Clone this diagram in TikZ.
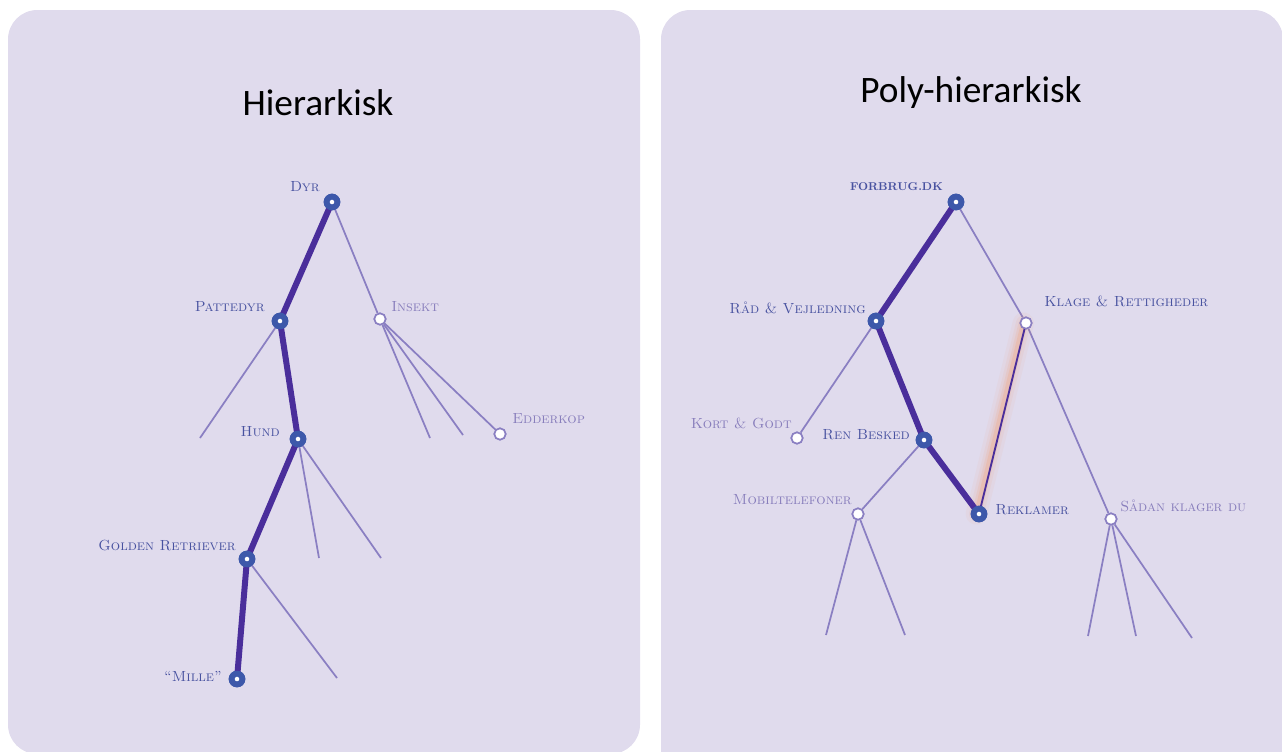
\documentclass[tikz,border=0pt]{standalone}
\usepackage{fontspec}
\newfontfamily\titlefont{Carlito}
\definecolor{panelbg}{RGB}{224,219,237}
\definecolor{edgedark}{RGB}{74,46,155}
\definecolor{edgelight}{RGB}{138,127,194}
\definecolor{nodeblue}{RGB}{61,88,170}
\definecolor{labdark}{RGB}{72,82,160}
\definecolor{labfaint}{RGB}{136,126,188}
\definecolor{glow}{RGB}{245,150,90}
\begin{document}
\begin{tikzpicture}[x=0.75pt,y=-0.75pt,
  mainedge/.style={line width=4.5pt, draw=edgedark, line cap=round},
  subedge/.style={line width=1.3pt, draw=edgelight},
  bnode/.style={circle, fill=nodeblue, minimum size=12.5pt, inner sep=0pt,
    path picture={\fill[white] (path picture bounding box.center) circle (1.7pt);}},
  wnode/.style={circle, draw=edgelight, fill=white, line width=1.2pt, minimum size=8.5pt, inner sep=0pt},
  lab/.style={font=\scshape\fontsize{11}{13}\selectfont, text=labdark, inner sep=0pt},
  flab/.style={lab, text=labfaint},
  ttl/.style={font=\titlefont\fontsize{28}{32}\selectfont, text=black, inner sep=0pt}]
\useasboundingbox (0,0) rectangle (1282,751);
\fill[panelbg, rounded corners=22pt] (8,10) rectangle (640,754);
\fill[panelbg, rounded corners=22pt] (661,10) rectangle (1283,790);

% ---------- left: Hierarkisk ----------
\node[ttl] (t1) at (318,103) {Hierarkisk};
\node[bnode] (dyr) at (332,202) {};
\node[bnode] (patt) at (280,321) {};
\node[wnode] (ins) at (380,319) {};
\node[wnode] (edd) at (500,434) {};
\node[bnode] (hund) at (298,439) {};
\node[bnode] (gold) at (247,559) {};
\node[bnode] (mille) at (237,679) {};
\coordinate (p1) at (200,438);
\coordinate (i1) at (430,438);
\coordinate (i2) at (463,435);
\coordinate (h1) at (319,558);
\coordinate (h2) at (381,558);
\coordinate (g1) at (337,678);

\draw[subedge] (dyr.center) -- (ins);
\draw[subedge] (patt.center) -- (p1);
\draw[subedge] (ins) -- (i1);
\draw[subedge] (ins) -- (i2);
\draw[subedge] (ins) -- (edd);
\draw[subedge] (hund.center) -- (h1);
\draw[subedge] (hund.center) -- (h2);
\draw[subedge] (gold.center) -- (g1);
\draw[mainedge] (dyr.center) -- (patt.center);
\draw[mainedge] (patt.center) -- (hund.center);
\draw[mainedge] (hund.center) -- (gold.center);
\draw[mainedge] (gold.center) -- (mille.center);
\node[bnode] at (dyr) {};
\node[bnode] at (patt) {};
\node[bnode] at (hund) {};
\node[bnode] at (gold) {};
\node[bnode] at (mille) {};
\node[wnode] at (ins) {};
\node[wnode] at (edd) {};

\node[lab, anchor=east] (ldyr) at (320,187) {Dyr};
\node[lab, anchor=east] (lpatt) at (265,307) {Pattedyr};
\node[flab, anchor=west] (lins) at (391,307) {Insekt};
\node[flab, anchor=west] (ledd) at (512,419) {Edderkop};
\node[lab, anchor=east] (lhund) at (280,432) {Hund};
\node[lab, anchor=east] (lgold) at (236,545) {Golden Retriever};
\node[lab, anchor=east] (lmille) at (222,676) {``Mille''};

% ---------- right: Poly-hierarkisk ----------
\node[ttl] (t2) at (971,93) {Poly-hierarkisk};
\node[bnode] (forb) at (956,202) {};
\node[bnode] (raad) at (876,321) {};
\node[wnode] (klage) at (1026,323) {};
\node[wnode] (kort) at (797,438) {};
\node[bnode] (ren) at (924,440) {};
\node[bnode] (rekl) at (979,514) {};
\node[wnode] (mobil) at (858,514) {};
\node[wnode] (sadan) at (1111,519) {};
\coordinate (m1) at (826,635);
\coordinate (m2) at (905,635);
\coordinate (s1) at (1088,636);
\coordinate (s2) at (1136,636);
\coordinate (s3) at (1192,638);

\draw[subedge] (forb.center) -- (klage);
\draw[subedge] (raad.center) -- (kort);
\draw[subedge] (ren.center) -- (mobil);
\draw[subedge] (klage) -- (sadan);
\draw[subedge] (mobil) -- (m1);
\draw[subedge] (mobil) -- (m2);
\draw[subedge] (sadan) -- (s1);
\draw[subedge] (sadan) -- (s2);
\draw[subedge] (sadan) -- (s3);
% glow under the cross link
\foreach \w/\o in {16/0.06,11/0.08,7/0.12,3.5/0.18}
  \draw[glow, line width=\w pt, opacity=\o, line cap=round] ([xshift=-2pt]klage.center) -- ([xshift=-2pt]rekl.center);
\draw[edgedark, line width=1.4pt] (klage.center) -- (rekl.center);
\draw[mainedge] (forb.center) -- (raad.center);
\draw[mainedge] (raad.center) -- (ren.center);
\draw[mainedge] (ren.center) -- (rekl.center);
\node[bnode] at (forb) {};
\node[bnode] at (raad) {};
\node[bnode] at (ren) {};
\node[bnode] at (rekl) {};
\node[wnode] at (klage) {};
\node[wnode] at (kort) {};
\node[wnode] at (mobil) {};
\node[wnode] at (sadan) {};

\node[lab, anchor=east, font=\bfseries\fontsize{8.5}{10}\selectfont] (lforb) at (943,187) {FORBRUG.DK};
\node[lab, anchor=east] (lraad) at (866,308) {Råd \& Vejledning};
\node[lab, anchor=west] (lklage) at (1044,301) {Klage \& Rettigheder};
\node[flab, anchor=east] (lkort) at (792,423) {Kort \& Godt};
\node[lab, anchor=east] (lren) at (910,435) {Ren Besked};
\node[lab, anchor=west] (lrekl) at (995,510) {Reklamer};
\node[flab, anchor=east] (lmobil) at (852,500) {Mobiltelefoner};
\node[flab, anchor=west] (lsadan) at (1120,506) {Sådan klager du};
\end{tikzpicture}
\end{document}
